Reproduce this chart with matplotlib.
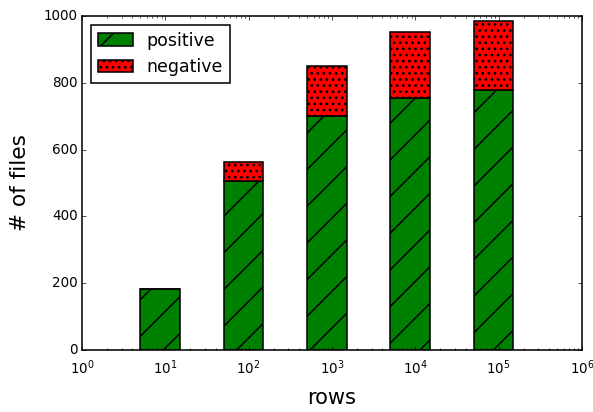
import numpy as np
import matplotlib
matplotlib.use('Agg')
import matplotlib.pyplot as plt

# values
rows = [1e1, 1e2, 1e3, 1e4, 1e5]
positive = [183, 506, 700, 755, 778]
negative = [0, 57, 150, 198, 207]

plt.style.use('classic')
DPI = 220
k = 80.0 / DPI  # classic style was drawn at 80 dpi
plt.rcParams.update({
    'font.size': 12 * k * 1.02,
    'legend.fontsize': 5.7,
    'axes.linewidth': 1.4 * k,
    'patch.linewidth': 1.4 * k,
    'hatch.linewidth': 0.5,
    'xtick.major.size': 4 * k, 'xtick.minor.size': 2 * k,
    'ytick.major.size': 4 * k, 'ytick.minor.size': 2 * k,
    'xtick.major.width': 0.6 * k, 'xtick.minor.width': 0.6 * k,
    'ytick.major.width': 0.6 * k, 'ytick.minor.width': 0.6 * k,
    'xtick.major.pad': 2.8, 'xtick.minor.pad': 2.8,
    'ytick.major.pad': 4 * k, 'ytick.minor.pad': 4 * k,
    'mathtext.fontset': 'dejavusans',
    'mathtext.default': 'regular',
})

fig = plt.figure(figsize=(593.0 / DPI, 412.0 / DPI), dpi=DPI)
ax = fig.add_axes([82 / 593., 62 / 412., 500 / 593., 334 / 412.])

w = np.array(rows)
ax.bar(rows, positive, width=w, color='g', hatch='//', label='positive')
ax.bar(rows, negative, width=w, bottom=positive, color='r', hatch='......',
       label='negative')

ax.set_xscale('log')
ax.set_xlim(1e0, 1e6)
ax.set_ylim(0, 1000)
ax.set_xlabel('rows', fontsize=6.9, labelpad=3.5)
ax.set_ylabel('# of files', fontsize=7.1, labelpad=4.5)
ax.legend(loc='upper left')

fig.savefig('out.png', dpi=DPI)
